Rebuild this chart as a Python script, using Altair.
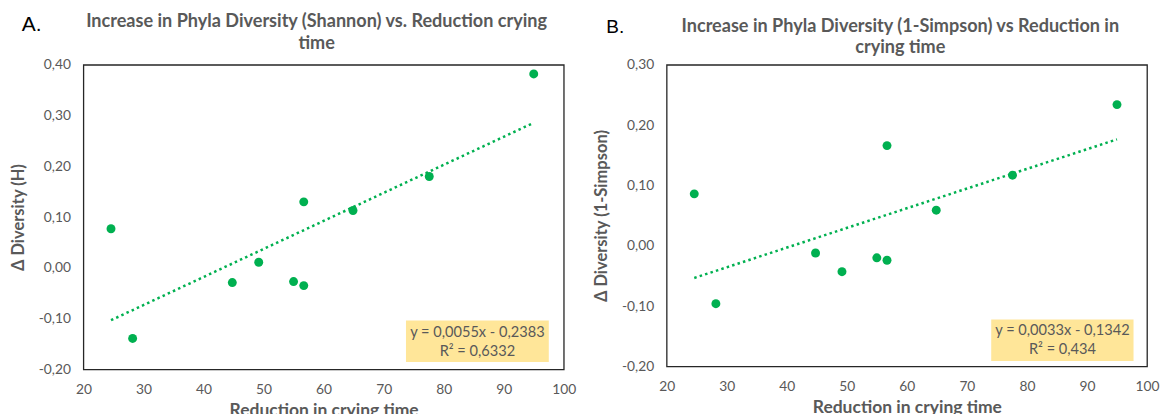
import altair as alt
import pandas as pd

# Data
reduction = [24.6, 28.2, 44.8, 49.2, 55.0, 56.7, 56.7, 64.9, 77.6, 95.0]
shannon = [0.077, -0.139, -0.029, 0.011, -0.027, -0.035, 0.130, 0.113, 0.180, 0.382]
simpson = [0.086, -0.096, -0.012, -0.043, -0.020, -0.024, 0.166, 0.059, 0.117, 0.234]

x_ticks = [20, 30, 40, 50, 60, 70, 80, 90, 100]
y_ticks_a = [-0.2, -0.1, 0.0, 0.1, 0.2, 0.3, 0.4]
y_ticks_b = [-0.2, -0.1, 0.0, 0.1, 0.2, 0.3]

title_a = ["Increase in Phyla Diversity (Shannon) vs. Reduction crying", "time"]
title_b = ["Increase in Phyla Diversity (1-Simpson) vs Reduction in", "crying time"]
eq_a = ["y = 0,0055x - 0,2383", "R² = 0,6332"]
eq_b = ["y = 0,0033x - 0,1342", "R² = 0,434"]

df = pd.DataFrame({"x": reduction, "shannon": shannon, "simpson": simpson})

GREEN = "#00B050"
GREY = "#595959"
FONT = "Lato"

label_expr = "(datum.value < 0 ? '-' : '') + replace(format(abs(datum.value), '.2f'), '.', ',')"


def panel(field, ytitle, yticks, height, title, title_y, letter, letter_pos, eq, box, eq_pos):
    base = alt.Chart(df)
    xenc = alt.X(
        "x:Q",
        scale=alt.Scale(domain=[20, 100], nice=False),
        axis=alt.Axis(values=x_ticks, title="Reduction in crying time", grid=False,
                      ticks=False, tickSize=0, domain=False, labelPadding=13,
                      labelFlush=False, titlePadding=5, titleFontSize=17.5),
    )
    yenc = alt.Y(
        f"{field}:Q",
        scale=alt.Scale(domain=[yticks[0], yticks[-1]], nice=False, zero=False),
        axis=alt.Axis(values=yticks, title=ytitle, grid=False, ticks=False, tickSize=0,
                      domain=False, labelExpr=label_expr, labelPadding=13,
                      labelFlush=False, titlePadding=12, titleFontSize=16.5),
    )
    pts = base.mark_circle(size=80, color=GREEN, opacity=1).encode(x=xenc, y=yenc)
    trend = (
        base.transform_regression("x", field)
        .mark_line(color=GREEN, strokeDash=[2.5, 3.2], strokeWidth=2.5)
        .encode(x="x:Q", y=f"{field}:Q")
    )
    one = alt.Chart(pd.DataFrame({"k": [0]}))
    rect = one.mark_rect(color="#FFE699").encode(
        x=alt.value(box[0]), x2=alt.value(box[1]), y=alt.value(box[2]), y2=alt.value(box[3])
    )
    t1 = one.mark_text(font=FONT, fontSize=14.6, color=GREY).encode(
        x=alt.value(eq_pos[0]), y=alt.value(eq_pos[1]), text=alt.value(eq[0])
    )
    t2 = one.mark_text(font=FONT, fontSize=14.6, color=GREY).encode(
        x=alt.value(eq_pos[0]), y=alt.value(eq_pos[2]), text=alt.value(eq[1])
    )
    h1 = one.mark_text(font=FONT, fontSize=18.1, fontWeight="bold", color=GREY).encode(
        x=alt.value(title_y[0]), y=alt.value(title_y[1]), text=alt.value(title[0])
    )
    h2 = one.mark_text(font=FONT, fontSize=18.1, fontWeight="bold", color=GREY).encode(
        x=alt.value(title_y[0]), y=alt.value(title_y[2]), text=alt.value(title[1])
    )
    let = one.mark_text(font="Liberation Sans", fontSize=letter_pos[2], color="black").encode(
        x=alt.value(letter_pos[0]), y=alt.value(letter_pos[1]), text=alt.value(letter)
    )
    return alt.layer(rect, trend, pts, t1, t2, h1, h2, let).properties(
        width=481,
        height=height,
    )


a = panel("shannon", "Δ Diversity (H)", y_ticks_a, 305, title_a, (233.5, -42.6, -20.6),
          "A.", (-51.8, -39.5, 21), eq_a, (323, 466, 256, 297.7), (394.5, 268.4, 287.4))
b = panel("simpson", "Δ Diversity (1-Simpson)", y_ticks_b, 302, title_b, (234, -38.3, -16.6),
          "B.", (-51.5, -38.3, 19), eq_b, (325, 467.5, 255, 296.7), (396.3, 266.7, 286))

chart = (
    alt.hconcat(a, b, spacing=103, bounds="flush")
    .properties(padding={"left": 9.5, "top": 11.6, "right": 0, "bottom": 0},
                background="white")
    .configure_view(stroke="#262626", strokeWidth=1.3)
    .configure_axis(labelFont=FONT, labelFontSize=13.8, labelColor=GREY,
                    titleFont=FONT, titleFontWeight="bold", titleColor=GREY)
)

chart.save("out.html", embed_options={"renderer": "svg", "actions": False})
